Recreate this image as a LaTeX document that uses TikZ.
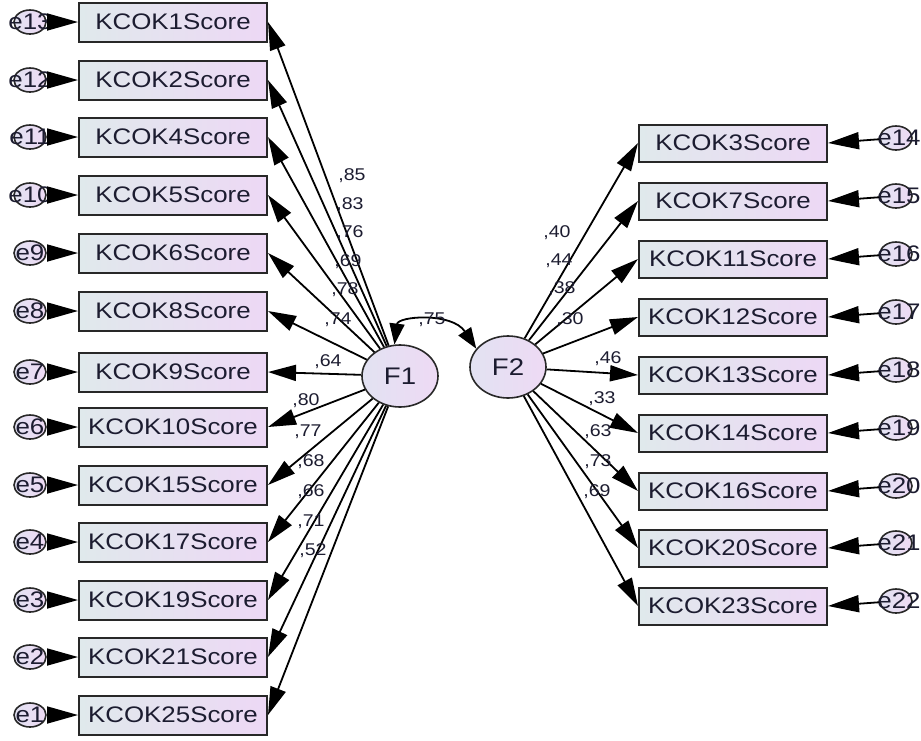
\documentclass[tikz,border=0pt]{standalone}
\usepackage{fontspec}
\setmainfont{Liberation Sans}
\newfontfamily\boxfont[FakeStretch=1.15]{Liberation Sans}
\usetikzlibrary{shapes.geometric,arrows.meta}
\definecolor{boxL}{RGB}{224,233,236}
\definecolor{boxR}{RGB}{237,216,245}
\definecolor{ellL}{RGB}{226,226,242}
\definecolor{ellR}{RGB}{238,218,244}
\definecolor{edge}{RGB}{40,40,40}
\definecolor{txt}{RGB}{28,28,48}
\tikzset{
  obs/.style={draw=edge, line width=2pt, left color=boxL, right color=boxR,
    minimum width=188pt, minimum height=39pt, inner sep=0pt,
    font={\boxfont\fontsize{22.5}{24}\selectfont}, text=txt},
  obsr/.style={obs, minimum height=37pt},
  lat/.style={ellipse, draw=edge, line width=1.6pt, left color=ellL, right color=ellR,
    minimum width=76pt, minimum height=62pt, inner sep=0pt,
    font={\boxfont\fontsize{24}{26}\selectfont}, text=txt},
  err/.style={ellipse, draw=edge, line width=1.6pt, left color=ellL, right color=ellR,
    minimum width=32pt, minimum height=24pt, inner sep=0pt},
  errtxt/.style={inner sep=0pt, font={\boxfont\fontsize{22.5}{24}\selectfont}, text=txt},
  lab/.style={inner sep=0pt, font={\boxfont\fontsize{17}{18}\selectfont}, text=txt},
  path/.style={draw=black, line width=1.8pt, -{Triangle[length=28pt,width=16pt]}},
  epath/.style={draw=black, line width=1.8pt, -{Triangle[length=31pt,width=17pt]}},
  corr/.style={draw=black, line width=1.8pt, {Triangle[length=21pt,width=15pt]}-{Triangle[length=21pt,width=15pt]}}
}
\begin{document}
\begin{tikzpicture}[x=1pt,y=-1pt]
\useasboundingbox[fill=white] (0,0) rectangle (921,740);

% latent factors
\node[lat] (f1) at (400,376) {F1};
\node[lat] (f2) at (508,367) {F2};

% left observed variables
\foreach \n/\t/\e/\y in {1/KCOK1Score/e13/22, 2/KCOK2Score/e12/80, 3/KCOK4Score/e11/137,
  4/KCOK5Score/e10/195, 5/KCOK6Score/e9/253, 6/KCOK8Score/e8/311, 7/KCOK9Score/e7/372,
  8/KCOK10Score/e6/427, 9/KCOK15Score/e5/485, 10/KCOK17Score/e4/542,
  11/KCOK19Score/e3/600, 12/KCOK21Score/e2/657, 13/KCOK25Score/e1/715}{
  \node[obs] (L\n) at (173,\y) {\t};
  \node[err] (eL\n) at (30,\y) {};
  \node[errtxt] (teL\n) at (30,\y) {\e};
  \draw[epath] (eL\n) -- (L\n.west);
  \draw[path] (f1) -- (L\n.east);
}

% right observed variables
\foreach \n/\t/\e/\y in {1/KCOK3Score/e14/143, 2/KCOK7Score/e15/201, 3/KCOK11Score/e16/259,
  4/KCOK12Score/e17/317, 5/KCOK13Score/e18/375, 6/KCOK14Score/e19/433,
  7/KCOK16Score/e20/491, 8/KCOK20Score/e21/548, 9/KCOK23Score/e22/606}{
  \node[obsr] (R\n) at (733,\y) {\t};
  \node[err] (eR\n) at (896,\y-5) {};
  \node[errtxt] (teR\n) at (899,\y-5) {\e};
  \draw[epath] (eR\n) -- (R\n.east);
  \draw[path] (f2) -- (R\n.west);
}

% covariance
\draw[corr] (f1.100) .. controls (398,316) and (452,312) .. (f2.150);
\node[lab] (c12) at (432,320) {,75};

% loadings F1
\node[lab] (a1) at (352,176) {,85};
\node[lab] (a2) at (350,205) {,83};
\node[lab] (a3) at (350,233) {,76};
\node[lab] (a4) at (348,262) {,69};
\node[lab] (a5) at (345,290) {,78};
\node[lab] (a6) at (338,320) {,74};
\node[lab] (a7) at (328,362) {,64};
\node[lab] (a8) at (306,401) {,80};
\node[lab] (a9) at (308,432) {,77};
\node[lab] (a10) at (311,462) {,68};
\node[lab] (a11) at (311,492) {,66};
\node[lab] (a12) at (311,522) {,71};
\node[lab] (a13) at (313,551) {,52};

% loadings F2
\node[lab] (b1) at (557,233) {,40};
\node[lab] (b2) at (559,261) {,44};
\node[lab] (b3) at (562,289) {,38};
\node[lab] (b4) at (570,320) {,30};
\node[lab] (b5) at (608,359) {,46};
\node[lab] (b6) at (602,399) {,33};
\node[lab] (b7) at (598,432) {,63};
\node[lab] (b8) at (598,462) {,73};
\node[lab] (b9) at (597,492) {,69};
\end{tikzpicture}
\end{document}
